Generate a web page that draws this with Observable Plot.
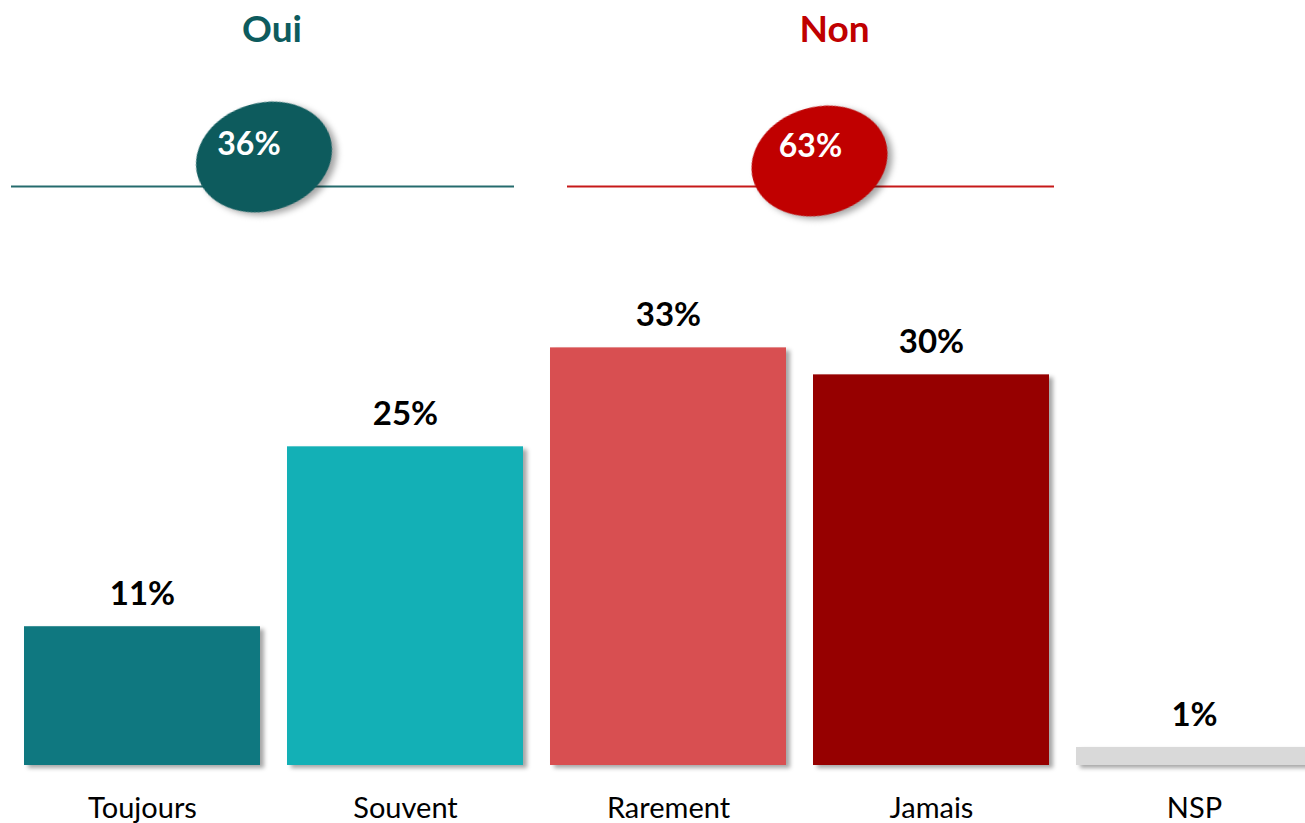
<!DOCTYPE html>
<html><head><meta charset="utf-8">
<script src="https://cdn.jsdelivr.net/npm/d3@7"></script>
<script src="https://cdn.jsdelivr.net/npm/@observablehq/plot@0.6"></script>
<style>
html,body{margin:0;padding:0;background:#fff;overflow:hidden;}
#chart svg{display:block;}
</style></head><body><div id="chart"></div>
<script>
// ---- data ----
const categories = ["Toujours", "Souvent", "Rarement", "Jamais", "NSP"];
const values = [10.8, 24.8, 32.5, 30.4, 1.4];
const valueLabels = ["11%", "25%", "33%", "30%", "1%"];
const barColors = ["#0f7880", "#13b0b6", "#d84f51", "#960000", "#d9d9d9"];
const groupNames = ["Oui", "Non"];
const groupLabels = ["36%", "63%"];
const groupColors = ["#0d5b5d", "#c00000"];
const groupFirst = ["Toujours", "Rarement"];
const groupLast = ["Souvent", "Jamais"];

// ---- layout (pixels) ----
const layout = [
  {lineL: -13, lineR: -9, ellDx: -9.5, ellCy: 157, txtDx: -24.5, txtY: 155, titleDx: -1.5},
  {lineL: 17, lineR: 5, ellDx: 20, ellCy: 161, txtDx: 11, txtY: 157, titleDx: 35}
];

const FONT = "Lato, 'Open Sans', sans-serif";
const data = categories.map((c, i) => ({cat: c, value: values[i], label: valueLabels[i], color: barColors[i]}));

const plot = Plot.plot({
  width: 1305, height: 823,
  marginTop: 251, marginBottom: 58, marginLeft: 0, marginRight: 0,
  style: {fontFamily: FONT, background: "#fff", color: "#000", overflow: "hidden"},
  x: {domain: categories, range: [-4.5, 1340], padding: 0.104, label: null},
  y: {domain: [0, 40], axis: null},
  color: {type: "identity"},
  marks: [
    Plot.barY(data, {x: "cat", y: "value", fill: d => d.color}),
    Plot.text(data, {x: "cat", y: "value", text: "label", lineAnchor: "bottom", dy: -22,
      fontSize: 33, fontWeight: "bold", fill: "#000"}),
    Plot.axisX({tickSize: 0, tickPadding: 32, fontSize: 29, fill: "#000", label: null})
  ]
});
document.getElementById("chart").appendChild(plot);

const svg = d3.select(plot);
svg.selectAll('g[aria-label="bar"] rect').style("filter", "drop-shadow(4px 3px 2px rgba(0,0,0,0.35))");

// header built from the plot's own x scale
const xs = plot.scale("x");
const bw = xs.bandwidth;
const header = svg.append("g").attr("class", "header");
groupNames.forEach((name, i) => {
  const L = layout[i];
  const x0 = xs.apply(groupFirst[i]);
  const x1 = xs.apply(groupLast[i]) + bw;
  const cx = (x0 + x1) / 2;
  header.append("line")
    .attr("x1", x0 + L.lineL).attr("x2", x1 + L.lineR)
    .attr("y1", 186.5).attr("y2", 186.5)
    .attr("stroke", groupColors[i]).attr("stroke-width", 2).attr("stroke-opacity", 0.9);
  header.append("ellipse")
    .attr("cx", 0).attr("cy", 0).attr("rx", 69).attr("ry", 54)
    .attr("transform", `translate(${cx + L.ellDx},${L.ellCy}) rotate(-16)`)
    .attr("fill", groupColors[i])
    .style("filter", "drop-shadow(4px 4px 3px rgba(0,0,0,0.35))");
  header.append("text")
    .attr("x", cx + L.txtDx).attr("y", L.txtY)
    .attr("text-anchor", "middle").attr("fill", "#fff")
    .attr("font-size", 32).attr("font-weight", "bold").attr("font-family", FONT)
    .text(groupLabels[i]);
  header.append("text")
    .attr("x", cx + L.titleDx).attr("y", 42)
    .attr("text-anchor", "middle").attr("fill", groupColors[i])
    .attr("font-size", 37).attr("font-weight", "bold").attr("font-family", FONT)
    .text(name);
});
</script></body></html>
